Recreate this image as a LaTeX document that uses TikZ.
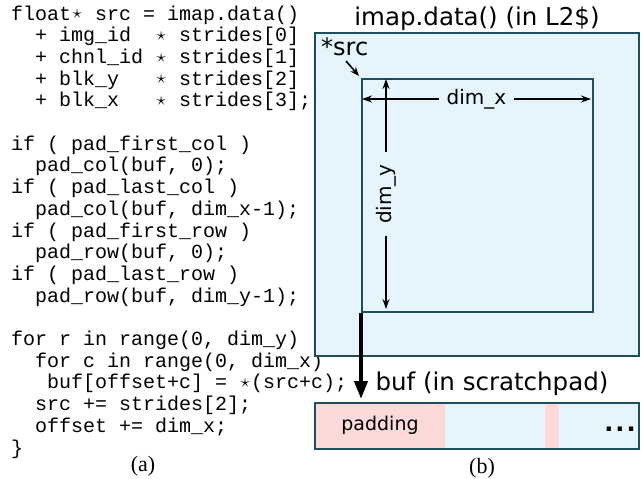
\documentclass[tikz,border=0pt]{standalone}
\usepackage{fontspec}
\setmainfont{Liberation Serif}
\setmonofont{Liberation Mono}
\newfontfamily\sansf{DejaVu Sans}
\usetikzlibrary{arrows.meta}
\definecolor{blueF}{HTML}{E6F4FD}
\definecolor{pinkF}{HTML}{FDD9D9}
\definecolor{edgeC}{HTML}{1D4F5C}
\newcommand\st{\makebox[0.6em]{\raisebox{1.2pt}{\scalebox{0.9}{$\star$}}}}
\tikzset{
  membox/.style={draw=edgeC, line width=2.2pt, fill=blueF, inner sep=0pt, anchor=north west},
  padbox/.style={fill=pinkF, inner sep=0pt, anchor=north west, minimum height=46pt},
  dimarrow/.style={{Stealth[length=10pt,width=7pt]}-{Stealth[length=10pt,width=7pt]}, line width=1.8pt},
  dimlabel/.style={fill=blueF, font=\sansf\fontsize{20}{24}\selectfont, inner xsep=8pt, inner ysep=2pt},
  title/.style={font=\sansf\fontsize{24.5}{28}\selectfont, anchor=base, inner sep=0pt},
  caption/.style={font=\fontsize{22}{26}\selectfont, anchor=base, inner sep=0pt},
  code/.style={font=\ttfamily\frenchspacing\fontsize{20}{21.7}\selectfont, align=left, anchor=base west, inner sep=0pt},
}
\begin{document}
\begin{tikzpicture}[x=1pt,y=-1pt]
\useasboundingbox (0,0) rectangle (641,479);
% code (anchor is the baseline of its last line)
\node[code] (code) at (11,454) {%
float\st{}~src~=~imap.data()\\
~~+~img\_id~~\st{}~strides[0]\\
~~+~chnl\_id~\st{}~strides[1]\\
~~+~blk\_y~~~\st{}~strides[2]\\
~~+~blk\_x~~~\st{}~strides[3];\\
\mbox{}\\
if~(~pad\_first\_col~)\\
~~pad\_col(buf,~0);\\
if~(~pad\_last\_col~)\\
~~pad\_col(buf,~dim\_x-1);\\
if~(~pad\_first\_row~)\\
~~pad\_row(buf,~0);\\
if~(~pad\_last\_row~)\\
~~pad\_row(buf,~dim\_y-1);\\
\mbox{}\\
for~r~in~range(0,~dim\_y)\\
~~for~c~in~range(0,~dim\_x)\\
~~~buf[offset+c]~=~\st(src+c);\\
~~src~+=~strides[2];\\
~~offset~+=~dim\_x;\\
\}};
\node[caption] (capa) at (143,471) {(a)};

% memory boxes
\node[title] (ttl1) at (477,25) {imap.data() (in L2\$)};
\node[membox, minimum width=324pt, minimum height=323pt] (outer) at (314,32) {};
\node[membox, minimum width=231pt, minimum height=233pt] (inner) at (361,78) {};
\node[anchor=base west, inner sep=0pt, font=\sansf\fontsize{24}{28}\selectfont] (srcl) at (321,55) {*src};
\coordinate (srcs) at (346,61);
\draw[-{Stealth[length=9pt,width=7pt]}, line width=1.6pt] (srcs) -- ([shift={(-2pt,2pt)}]inner.north west);

% dimension arrows
\coordinate (dxl) at (362,99);
\coordinate (dxr) at (591,99);
\draw[dimarrow] (dxl) -- node[dimlabel] (dxlab) {dim\_x} (dxr);
\coordinate (dyt) at (386,79);
\coordinate (dyb) at (386,309);
\draw[dimarrow] (dyt) -- node[dimlabel, rotate=90, inner xsep=12pt] (dylab) {dim\_y} (dyb);

% buffer
\node[title] (ttl2) at (492,390) {buf (in scratchpad)};
\node[membox, minimum width=324pt, minimum height=46pt] (buf) at (314,402) {};
\node[padbox, minimum width=130pt] (pad1) at (315,403) {};
\node[padbox, minimum width=14pt] (pad2) at (545,403) {};
\node[draw=edgeC, line width=2.2pt, inner sep=0pt, anchor=north west, minimum width=324pt, minimum height=46pt] (bufedge) at (314,402) {};
\node[font=\sansf\fontsize{19}{22}\selectfont, inner sep=0pt] (padl) at (380,425) {padding};
\node[font=\sansf\bfseries\fontsize{24}{26}\selectfont, inner sep=0pt, anchor=base] (dots) at (620,431) {.\kern2pt.\kern2pt.};

% thick arrow
\draw[-{Triangle[length=18pt,width=13pt]}, line width=4pt, shorten >=3pt] (inner.south west) -- (inner.south west |- buf.north);

\node[caption] (capb) at (482,473) {(b)};
\end{tikzpicture}
\end{document}
